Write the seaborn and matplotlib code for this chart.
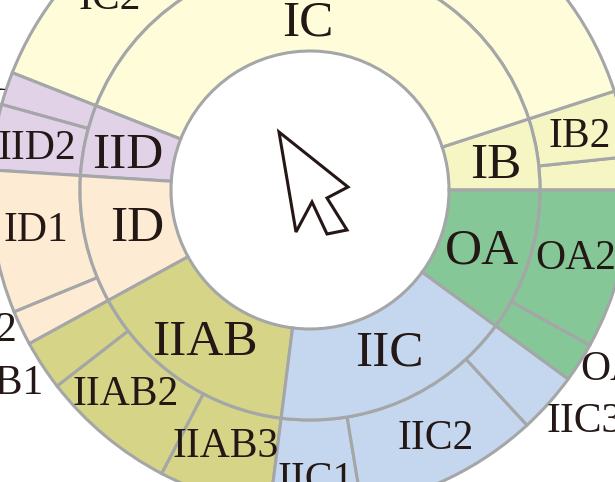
import matplotlib
matplotlib.use('Agg')
import matplotlib.pyplot as plt
from matplotlib.patches import Polygon
import seaborn as sns

# sector sizes in degrees, counter-clockwise from 3 o'clock
inner_labels = ['IB', 'IC', 'IID', 'ID', 'IIAB', 'IIC', 'OA']
inner_values = [18.0, 140.5, 17.9, 32.3, 54.1, 61.0, 36.2]

outer_labels = ['IB1', 'IB2', 'IC1', 'IC2', 'IID1', 'IID2', 'ID1', 'ID2',
                'IIAB1', 'IIAB2', 'IIAB3', 'IIC1', 'IIC2', 'IIC3', 'OA1', 'OA2']
outer_values = [6.0, 12.0, 70.0, 70.5, 6.0, 11.9, 26.0, 6.3,
                9.1, 24.6, 20.4, 16.5, 33.4, 11.1, 7.2, 29.0]

group_colors = {
    'IB': '#F5F6C3',
    'IC': '#FFFCD9',
    'IID': '#E1D2E8',
    'ID': '#FDEBD4',
    'IIAB': '#D6D486',
    'IIC': '#C5D7EF',
    'OA': '#86C798',
}

# pixel position of each label (centre x, baseline y)
inner_label_pos = {
    'IB': (496, 178), 'IC': (308, 36), 'IID': (128, 168), 'ID': (137, 241),
    'IIAB': (205, 355), 'IIC': (389, 366), 'OA': (482, 263),
}
outer_label_pos = {
    'IB2': (580, 147), 'IC2': (110, 9), 'IID1': (-31, 90), 'IID2': (37, 159),
    'ID1': (36, 241), 'ID2': (-15, 341), 'IIAB1': (-9, 394), 'IIAB2': (126, 405),
    'IIAB3': (226, 457), 'IIC1': (316, 491), 'IIC2': (436, 449), 'IIC3': (585, 432),
    'OA1': (621, 380), 'OA2': (576, 269),
}

# outline of the cursor in the hole, in pixels
cursor_px = [(279, 132), (348, 187), (327, 198), (347, 230), (327, 234), (312, 202), (296, 232)]

CX, CY = 310, 190
EDGE = '#A4A6A7'
INK = '#231815'


def to_data(x, y):
    return x - CX, CY - y


def outer_group(name):
    return name[:-1]


def main():
    sns.set_theme(style='white')
    plt.rcParams['font.family'] = ['Liberation Serif', 'DejaVu Serif']

    fig = plt.figure(figsize=(6.15, 4.82), dpi=100)
    ax = fig.add_axes([0, 0, 1, 1])

    wedge_style = {'edgecolor': EDGE, 'linewidth': 2.2}
    ax.pie(
        outer_values,
        colors=[group_colors[outer_group(n)] for n in outer_labels],
        radius=320,
        startangle=0,
        counterclock=True,
        wedgeprops=dict(width=90, **wedge_style),
    )
    ax.pie(
        inner_values,
        colors=[group_colors[n] for n in inner_labels],
        radius=230,
        startangle=0,
        counterclock=True,
        wedgeprops=dict(width=91, **wedge_style),
    )

    ax.set_xlim(-CX, 615 - CX)
    ax.set_ylim(CY - 482, CY)
    ax.set_aspect('equal')
    ax.axis('off')

    for name, (x, y) in inner_label_pos.items():
        tx, ty = to_data(x, y)
        ax.text(tx, ty, name, fontsize=37, color=INK, ha='center', va='baseline')
    for name, (x, y) in outer_label_pos.items():
        tx, ty = to_data(x, y)
        ax.text(tx, ty, name, fontsize=30, color=INK, ha='center', va='baseline', clip_on=True)

    ax.add_patch(Polygon([to_data(x, y) for x, y in cursor_px], closed=True,
                         facecolor='white', edgecolor=INK, linewidth=2.2, joinstyle='miter'))

    fig.savefig('out.png', dpi=100)
    plt.close(fig)


if __name__ == '__main__':
    main()
